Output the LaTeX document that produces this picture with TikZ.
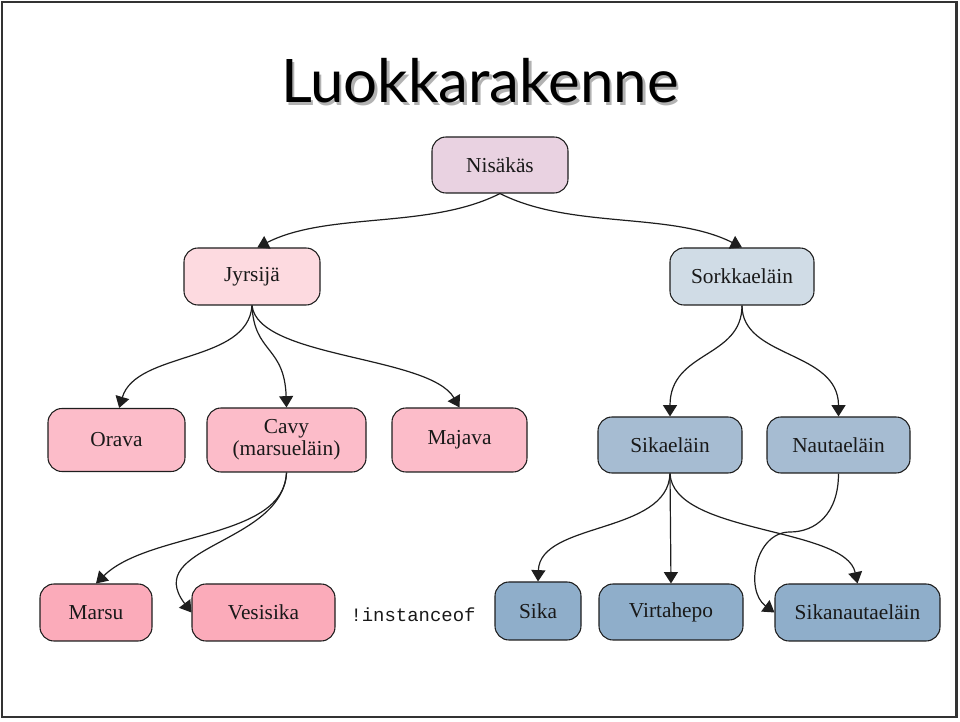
\documentclass[tikz,border=0pt]{standalone}
\usepackage{fontspec}
\setmainfont{Liberation Serif}
\newfontfamily\titlefont{Lato}
\setmonofont{Liberation Mono}
\usetikzlibrary{arrows.meta}
\definecolor{cNis}{RGB}{233,210,225}
\definecolor{cJyr}{RGB}{253,218,224}
\definecolor{cSor}{RGB}{208,220,230}
\definecolor{cRod}{RGB}{252,188,201}
\definecolor{cSik}{RGB}{166,188,210}
\definecolor{cLeafR}{RGB}{251,171,186}
\definecolor{cLeafB}{RGB}{143,174,202}
\definecolor{cLine}{RGB}{30,30,30}
\begin{document}
\begin{tikzpicture}[x=0.75pt,y=0.75pt,
  box/.style={draw=cLine, line width=0.8pt, rounded corners=10.5pt, inner sep=0pt,
    font=\fontsize{16pt}{16.5pt}\selectfont, text=black!90, align=center},
  sz/.style 2 args={minimum width=#1*0.75pt, minimum height=#2*0.75pt},
  conn/.style={draw=cLine, line width=0.9pt, -{Triangle[length=8.5pt,width=10.5pt]}},
  ttl/.style={font=\titlefont\fontsize{45pt}{45pt}\selectfont, anchor=base, inner sep=0pt}]
\useasboundingbox (0,0) rectangle (960,721);
\draw[line width=1.6pt, draw=black!80] (2,4) rectangle (956.5,719);

% title
\node[ttl, text=black!30] (ttlshadow) at (482.5,615.5) {Luokkarakenne};
\node[ttl, text=black] (title) at (480,618) {Luokkarakenne};

% nodes
\node[box, sz={136}{56}, fill=cNis] (nis) at (500,556) {Nisäkäs};
\node[box, sz={136}{57}, fill=cJyr] (jyr) at (252,444.5) {Jyrsijä};
\node[box, sz={144}{57}, fill=cSor] (sor) at (742,444.5) {Sorkkaeläin};
\node[box, sz={137}{63}, fill=cRod] (ora) at (116.5,281) {Orava};
\node[box, sz={159}{64}, fill=cRod] (cavy) at (286.5,281) {Cavy\\(marsueläin)};
\node[box, sz={135}{64}, fill=cRod] (maj) at (459.5,281) {Majava};
\node[box, sz={144}{56}, fill=cSik] (sikael) at (670,276) {Sikaeläin};
\node[box, sz={143}{56}, fill=cSik] (naut) at (838.5,276) {Nautaeläin};
\node[box, sz={112}{57}, fill=cLeafR] (marsu) at (96,108.5) {Marsu};
\node[box, sz={143}{57}, fill=cLeafR] (vesi) at (263.5,108.5) {Vesisika};
\node[font=\ttfamily\fontsize{14.2pt}{15pt}\selectfont, text=black!90] (inst) at (413,106) {!instanceof};
\node[box, sz={86}{58}, fill=cLeafB] (sika) at (538,110) {Sika};
\node[box, sz={144}{56}, fill=cLeafB] (virta) at (671,109) {Virtahepo};
\node[box, sz={165}{57}, fill=cLeafB] (sikan) at (857.5,108.5) {Sikanautaeläin};
\coordinate (nm) at (790,189);

% connectors
\draw[conn] (nis.south) .. controls +(-71,-36) and +(71,36) .. ([xshift=4]jyr.north);
\draw[conn] (nis.south) .. controls +(71,-36) and +(-71,36) .. (sor.north);

\draw[conn] (jyr.south) .. controls +(-4,-58) and +(17,57) .. ([xshift=2]ora.north);
\draw[conn] (jyr.south) .. controls +(2,-48) and +(-2,62) .. (cavy.north);
\draw[conn] (jyr.south) .. controls +(6,-53) and +(-30,52) .. (maj.north);

\draw[conn] (sor.south) .. controls +(0,-53) and +(0,66) .. (sikael.north);
\draw[conn] (sor.south) .. controls +(0,-53) and +(0,66) .. (naut.north);

\draw[conn] (cavy.south) .. controls +(-2,-67) and +(53,52) .. (marsu.north);
\draw[conn] (cavy.south) .. controls +(-4,-72) and +(-51,67) .. (vesi.west);

\draw[conn] (sikael.south) .. controls +(-2,-61) and +(2,60) .. (sika.north);
\draw[conn] (sikael.south) -- (virta.north);
\draw[conn] (sikael.south) .. controls +(3,-61) and +(-12,57) .. (sikan.north);

\draw[conn] (naut.south) .. controls +(0,-41) and +(25,0) .. (nm)
  .. controls +(-35,0) and +(-30,22) .. (sikan.west);
\end{tikzpicture}
\end{document}
